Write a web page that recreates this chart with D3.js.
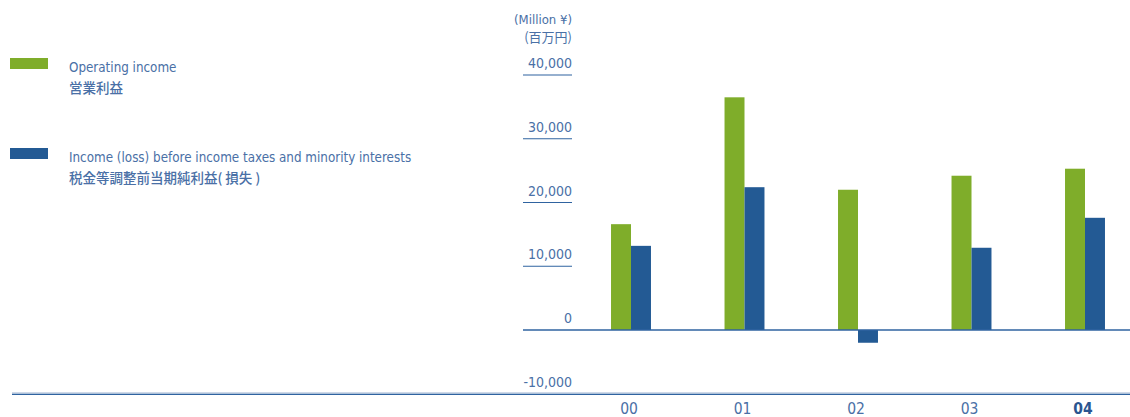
<!DOCTYPE html>
<html>
<head>
<meta charset="utf-8">
<script src="https://cdn.jsdelivr.net/npm/d3@7"></script>
<style>
  html, body { margin: 0; padding: 0; background: #fff; }
  svg { display: block; }
</style>
</head>
<body>
<div id="chart"></div>
<script>
// fiscal years and the two series, in million yen
const YEARS = ['00', '01', '02', '03', '04'];
const OPERATING = [16600, 36500, 22000, 24200, 25300];
const PRETAX = [13200, 22400, -2000, 12900, 17600];
const TICKS = [-10000, 0, 10000, 20000, 30000, 40000];
const SERIES = [
  { key: 'op', en: 'Operating income', ja: '営業利益', values: OPERATING },
  { key: 'pt', en: 'Income (loss) before income taxes and minority interests', ja: '税金等調整前当期純利益( 損失 )', values: PRETAX },
];

const W = 1130, H = 417;
const GREEN = '#7fad2a', BLUE = '#235a94', TEXT = '#4a70a6', LINE = '#2f63a0';
const FONT = '"Liberation Sans Narrow", "DejaVu Sans Condensed", "Noto Sans", sans-serif';
const JFONT = '"Noto Sans CJK JP", sans-serif';
const fmt = v => d3.format(',')(v).replace('−', '-');

const svg = d3.select('#chart').append('svg')
  .attr('width', W).attr('height', H)
  .attr('viewBox', `0 0 ${W} ${H}`);

const y = d3.scaleLinear().domain([-10000, 40000]).range([393.75, 75]);
const x0 = d3.scaleBand().domain(YEARS).range([574.25, 1141.75]).paddingInner(0.648).paddingOuter(0.324);
const x1 = d3.scaleBand().domain(SERIES.map(s => s.key)).range([0, x0.bandwidth()]);

// y ticks: short underlines with labels sitting above them
const tg = svg.append('g');
TICKS.forEach(t => {
  if (t !== 0 && t !== -10000) {
    tg.append('line')
      .attr('x1', 523).attr('x2', 572)
      .attr('y1', y(t)).attr('y2', y(t))
      .attr('stroke', LINE).attr('stroke-width', 1.2);
  }
  tg.append('text')
    .attr('x', 572).attr('y', y(t) - 7)
    .attr('text-anchor', 'end')
    .attr('font-family', FONT).attr('font-size', 14)
    .attr('fill', TEXT)
    .text(fmt(t));
});

// units
svg.append('text').attr('x', 572).attr('y', 24).attr('text-anchor', 'end')
  .attr('font-family', FONT).attr('font-size', 13).attr('fill', TEXT).text('(Million ¥)');
svg.append('text').attr('x', 572).attr('y', 42).attr('text-anchor', 'end')
  .attr('font-family', JFONT).attr('font-size', 13).attr('fill', TEXT).text('(百万円)');

// bars
YEARS.forEach((yr, i) => {
  const g = svg.append('g').attr('transform', `translate(${x0(yr)},0)`);
  SERIES.forEach(s => {
    const v = s.values[i];
    g.append('rect')
      .attr('x', x1(s.key))
      .attr('width', x1.bandwidth())
      .attr('y', y(Math.max(0, v)))
      .attr('height', Math.abs(y(v) - y(0)))
      .attr('fill', s.key === 'op' ? GREEN : BLUE);
  });
});

// zero line
svg.append('line')
  .attr('x1', 523).attr('x2', W)
  .attr('y1', y(0)).attr('y2', y(0))
  .attr('stroke', LINE).attr('stroke-width', 1.4);

// bottom axis line (light over dark)
svg.append('line')
  .attr('x1', 12).attr('x2', W)
  .attr('y1', y(-10000) - 0.8).attr('y2', y(-10000) - 0.8)
  .attr('stroke', '#a9bcd6').attr('stroke-width', 1);
svg.append('line')
  .attr('x1', 12).attr('x2', W)
  .attr('y1', y(-10000) + 0.6).attr('y2', y(-10000) + 0.6)
  .attr('stroke', LINE).attr('stroke-width', 1.4);

// year labels
YEARS.forEach((yr, i) => {
  svg.append('text')
    .attr('x', x0(yr) + x0.bandwidth() / 2 - 2).attr('y', 413.5)
    .attr('text-anchor', 'middle')
    .attr('font-family', FONT).attr('font-size', 15.5)
    .attr('font-weight', i === YEARS.length - 1 ? 700 : 400)
    .attr('fill', i === YEARS.length - 1 ? '#2a5590' : TEXT)
    .text(yr);
});

// legend
const LEG_Y = [58, 148];
SERIES.forEach((s, i) => {
  const ly = LEG_Y[i];
  svg.append('rect').attr('x', 10).attr('y', ly).attr('width', 38).attr('height', 11)
    .attr('fill', s.key === 'op' ? GREEN : BLUE);
  svg.append('text').attr('x', 69).attr('y', ly + 14)
    .attr('font-family', FONT).attr('font-size', 13.3).attr('fill', TEXT).text(s.en);
  svg.append('text').attr('x', 69).attr('y', ly + 35)
    .attr('font-family', JFONT).attr('font-size', 13.5).attr('font-weight', 500)
    .attr('fill', TEXT).text(s.ja);
});
</script>
</body>
</html>
